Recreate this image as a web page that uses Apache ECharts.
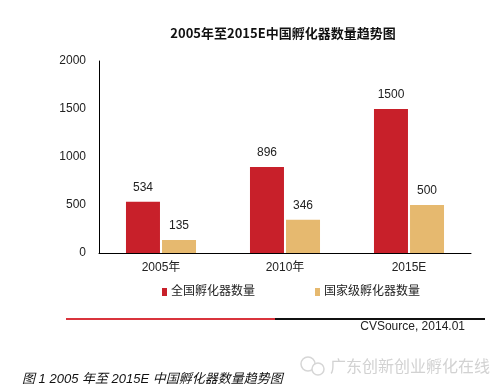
<!DOCTYPE html>
<html><head><meta charset="utf-8">
<script src="https://cdn.jsdelivr.net/npm/echarts@6/dist/echarts.min.js"></script>
<style>html,body{margin:0;padding:0;background:#fff}#c{width:499px;height:389px}</style>
</head><body><div id="c"></div>
<script>
const categories = ['2005年', '2010年', '2015E'];
const seriesNames = ['全国孵化器数量', '国家级孵化器数量'];
const nationalTotal = [534, 896, 1500];
const nationalLevel = [135, 346, 500];
const yTicks = [0, 500, 1000, 1500, 2000];

const chart = echarts.init(document.getElementById('c'));
const font = 'Arial, "Liberation Sans", "Noto Sans CJK SC", sans-serif';
chart.setOption({
  backgroundColor: '#fff',
  animation: false,
  textStyle: { fontFamily: font },
  title: {
    text: '2005年至2015E中国孵化器数量趋势图',
    left: 278, top: 22, textAlign: 'center',
    textStyle: { fontSize: 13, fontWeight: 'bold', color: '#111', fontFamily: '"Noto Sans CJK SC", sans-serif' }
  },
  grid: { left: 99, right: 28, top: 61, bottom: 136 },
  legend: {
    data: seriesNames, top: 281, left: 157, itemWidth: 5, itemHeight: 8, itemGap: 60,
    icon: 'rect',
    textStyle: { fontSize: 12, color: '#222', padding: [0, 0, 0, -1] }
  },
  xAxis: {
    type: 'category', data: categories,
    axisLine: { lineStyle: { color: '#000', width: 1 } },
    axisTick: { show: false },
    axisLabel: { fontSize: 12, color: '#222', margin: 9 }
  },
  yAxis: {
    type: 'value', min: yTicks[0], max: yTicks[yTicks.length - 1], interval: 500,
    axisLine: { show: true, lineStyle: { color: '#000', width: 1 } },
    axisTick: { show: false },
    splitLine: { show: false },
    axisLabel: { fontSize: 12, color: '#222', margin: 13, formatter: v => String(v) }
  },
  series: [
    { name: seriesNames[0], type: 'bar', data: nationalTotal, barWidth: 34, barGap: '6%',
      itemStyle: { color: '#C8202A' },
      label: { show: true, position: 'top', distance: 8, fontSize: 12, color: '#222' } },
    { name: seriesNames[1], type: 'bar', data: nationalLevel, barWidth: 34,
      itemStyle: { color: '#E6B96F' },
      label: { show: true, position: 'top', distance: 8, fontSize: 12, color: '#222' } }
  ],
  graphic: [
    { type: 'line', shape: { x1: 66, y1: 319, x2: 275, y2: 319 }, style: { stroke: '#D9343C', lineWidth: 2 } },
    { type: 'line', shape: { x1: 275, y1: 319, x2: 485, y2: 319 }, style: { stroke: '#111', lineWidth: 2 } },
    { type: 'text', x: 465, y: 321, style: { text: 'CVSource, 2014.01', align: 'right', verticalAlign: 'top', font: '12px ' + font, fill: '#222' } },
    { type: 'text', x: 22, y: 379, style: { text: '图 1 2005 年至 2015E 中国孵化器数量趋势图', align: 'left', verticalAlign: 'middle', font: 'italic 13px ' + font, fill: '#111' } },
    { type: 'text', x: 330, y: 366, style: { text: '广东创新创业孵化在线', align: 'left', verticalAlign: 'middle', font: '16px "Noto Sans CJK SC", sans-serif', fill: '#d2d2d2' } },
    { type: 'circle', shape: { cx: 308, cy: 364, r: 7 }, style: { fill: 'none', stroke: '#d6d6d6', lineWidth: 1.5 } },
    { type: 'circle', shape: { cx: 318, cy: 369, r: 6 }, style: { fill: '#fff', stroke: '#d6d6d6', lineWidth: 1.5 } }
  ]
});
</script></body></html>
